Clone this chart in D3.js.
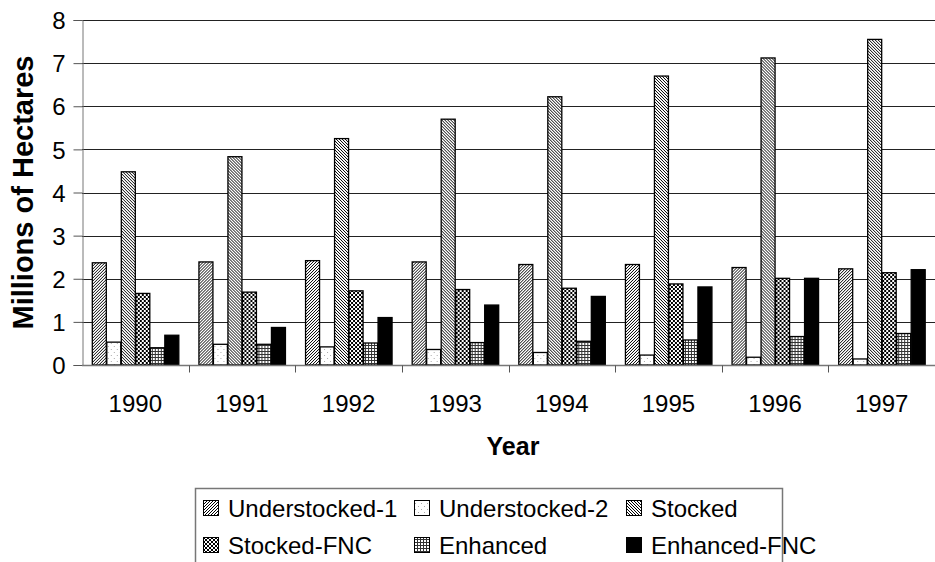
<!DOCTYPE html>
<html>
<head>
<meta charset="utf-8">
<script src="https://cdn.jsdelivr.net/npm/d3@7"></script>
<style>
  body { margin: 0; background: #fff; }
  svg { display: block; font-family: "Liberation Sans", Arial, sans-serif; }
</style>
</head>
<body>
<div id="chart"></div>
<script>
// values, millions of hectares
const years = ["1990", "1991", "1992", "1993", "1994", "1995", "1996", "1997"];
const seriesNames = ["Understocked-1", "Understocked-2", "Stocked", "Stocked-FNC", "Enhanced", "Enhanced-FNC"];
const understocked1 = [2.37, 2.39, 2.42, 2.39, 2.33, 2.33, 2.26, 2.23];
const understocked2 = [0.53, 0.48, 0.42, 0.36, 0.29, 0.23, 0.18, 0.14];
const stocked = [4.48, 4.83, 5.25, 5.70, 6.22, 6.70, 7.12, 7.55];
const stockedFNC = [1.66, 1.69, 1.72, 1.75, 1.78, 1.88, 2.01, 2.14];
const enhanced = [0.40, 0.48, 0.51, 0.52, 0.55, 0.58, 0.66, 0.73];
const enhancedFNC = [0.69, 0.87, 1.10, 1.39, 1.59, 1.81, 2.01, 2.21];
const yTicks = [0, 1, 2, 3, 4, 5, 6, 7, 8];

const seriesValues = [understocked1, understocked2, stocked, stockedFNC, enhanced, enhancedFNC];
const fills = ["url(#hatchUp)", "url(#dots)", "url(#hatchDown)", "url(#checker)", "url(#grid)", "#000"];

const width = 935, height = 562;
const margin = {top: 20, right: 0, bottom: 197, left: 82};

const svg = d3.select("#chart").append("svg")
    .attr("width", width)
    .attr("height", height);

// fill patterns
const defs = svg.append("defs");

let p = defs.append("pattern").attr("id", "hatchUp")
    .attr("patternUnits", "userSpaceOnUse").attr("width", 3).attr("height", 3);
p.append("rect").attr("width", 3).attr("height", 3).attr("fill", "#fff");
p.append("path").attr("d", "M-1,1 L1,-1 M0,3 L3,0 M2,4 L4,2")
    .attr("stroke", "#000").attr("stroke-width", 1);

p = defs.append("pattern").attr("id", "hatchDown")
    .attr("patternUnits", "userSpaceOnUse").attr("width", 3).attr("height", 3);
p.append("rect").attr("width", 3).attr("height", 3).attr("fill", "#fff");
p.append("path").attr("d", "M-1,2 L1,4 M0,0 L3,3 M2,-1 L4,1")
    .attr("stroke", "#000").attr("stroke-width", 1);

p = defs.append("pattern").attr("id", "dots")
    .attr("patternUnits", "userSpaceOnUse").attr("width", 6).attr("height", 6);
p.append("rect").attr("width", 6).attr("height", 6).attr("fill", "#fff");
p.append("rect").attr("x", 1).attr("y", 1).attr("width", 1).attr("height", 1).attr("fill", "#aaa");
p.append("rect").attr("x", 4).attr("y", 4).attr("width", 1).attr("height", 1).attr("fill", "#aaa");

p = defs.append("pattern").attr("id", "checker")
    .attr("patternUnits", "userSpaceOnUse").attr("width", 4).attr("height", 4);
p.append("rect").attr("width", 4).attr("height", 4).attr("fill", "#fff");
p.append("rect").attr("width", 2).attr("height", 2).attr("fill", "#000");
p.append("rect").attr("x", 2).attr("y", 2).attr("width", 2).attr("height", 2).attr("fill", "#000");

p = defs.append("pattern").attr("id", "grid")
    .attr("patternUnits", "userSpaceOnUse").attr("width", 3).attr("height", 3);
p.append("rect").attr("width", 3).attr("height", 3).attr("fill", "#fff");
p.append("path").attr("d", "M0,0.5 H3 M0.5,0 V3").attr("stroke", "#333").attr("stroke-width", 1);

const x0 = d3.scaleBand()
    .domain(years)
    .range([margin.left, width - margin.right])
    .paddingInner(0.184)
    .paddingOuter(0.092);

const outer = d3.scaleBand()
    .domain(years)
    .range([margin.left, width - margin.right]);

const x1 = d3.scaleBand()
    .domain(d3.range(seriesNames.length))
    .range([0, x0.bandwidth()]);

const y = d3.scaleLinear()
    .domain([0, 8])
    .range([height - margin.bottom, margin.top]);

// gridlines
svg.append("g")
    .selectAll("line")
    .data(yTicks.slice(1))
    .join("line")
    .attr("x1", margin.left)
    .attr("x2", width - margin.right)
    .attr("y1", d => Math.round(y(d)) + 0.5)
    .attr("y2", d => Math.round(y(d)) + 0.5)
    .attr("stroke", "#222")
    .attr("stroke-width", 1);

// bars
const groups = svg.append("g")
    .selectAll("g")
    .data(years)
    .join("g")
    .attr("transform", d => "translate(" + x0(d) + ",0)");

groups.selectAll("rect")
    .data((d, i) => seriesValues.map((vals, s) => ({s: s, v: vals[i]})))
    .join("rect")
    .attr("x", d => x1(d.s) + 0.5)
    .attr("y", d => y(d.v))
    .attr("width", x1.bandwidth() - 0.5)
    .attr("height", d => y(0) - y(d.v))
    .attr("fill", d => fills[d.s])
    .attr("stroke", "#000")
    .attr("stroke-width", 1.3);

// y axis
const yAxis = svg.append("g")
    .attr("transform", "translate(" + (margin.left + 0.5) + ",0)")
    .call(d3.axisLeft(y).tickValues(yTicks).tickSize(9).tickPadding(8));
yAxis.select(".domain").attr("stroke", "#777");
yAxis.selectAll(".tick line").attr("stroke", "#555");
yAxis.selectAll("text")
    .attr("fill", "#000")
    .style("font-size", "24px")
    .attr("dy", "0.36em");

// x axis
const xAxis = svg.append("g")
    .attr("transform", "translate(0," + (y(0) + 0.5) + ")");
xAxis.append("line")
    .attr("x1", margin.left)
    .attr("x2", width)
    .attr("stroke", "#777")
    .attr("stroke-width", 1.5);
xAxis.selectAll(".sep")
    .data(years.slice(1))
    .join("line")
    .attr("class", "sep")
    .attr("x1", d => Math.round(outer(d)) + 0.5)
    .attr("x2", d => Math.round(outer(d)) + 0.5)
    .attr("y1", 0)
    .attr("y2", 7)
    .attr("stroke", "#555");
xAxis.selectAll(".lbl")
    .data(years)
    .join("text")
    .attr("class", "lbl")
    .attr("x", d => outer(d) + outer.bandwidth() / 2)
    .attr("y", 46)
    .attr("text-anchor", "middle")
    .style("font-size", "24px")
    .text(d => d);

// axis titles
svg.append("text")
    .attr("x", 513)
    .attr("y", 455)
    .attr("text-anchor", "middle")
    .style("font-size", "25px")
    .style("font-weight", "bold")
    .text("Year");

svg.append("text")
    .attr("transform", "translate(33," + (y(4) ) + ") rotate(-90)")
    .attr("text-anchor", "middle")
    .style("font-size", "29px")
    .style("font-weight", "bold")
    .text("Millions of Hectares");

// legend
const legend = svg.append("g").attr("transform", "translate(195,488)");
legend.append("rect")
    .attr("x", 0.5).attr("y", 0.5)
    .attr("width", 587).attr("height", 80)
    .attr("fill", "#fff")
    .attr("stroke", "#777")
    .attr("stroke-width", 1.5);

const colX = [8, 219, 431];
const rowY = [20, 57];
const items = legend.selectAll(".item")
    .data(seriesNames)
    .join("g")
    .attr("class", "item")
    .attr("transform", (d, i) => "translate(" + colX[i % 3] + "," + rowY[Math.floor(i / 3)] + ")");
items.append("rect")
    .attr("x", 0.5).attr("y", -7.5)
    .attr("width", 15).attr("height", 15)
    .attr("fill", (d, i) => fills[i])
    .attr("stroke", "#000")
    .attr("stroke-width", 1);
items.append("text")
    .attr("x", 25)
    .attr("dy", "0.36em")
    .style("font-size", "24px")
    .text(d => d);
</script>
</body>
</html>
